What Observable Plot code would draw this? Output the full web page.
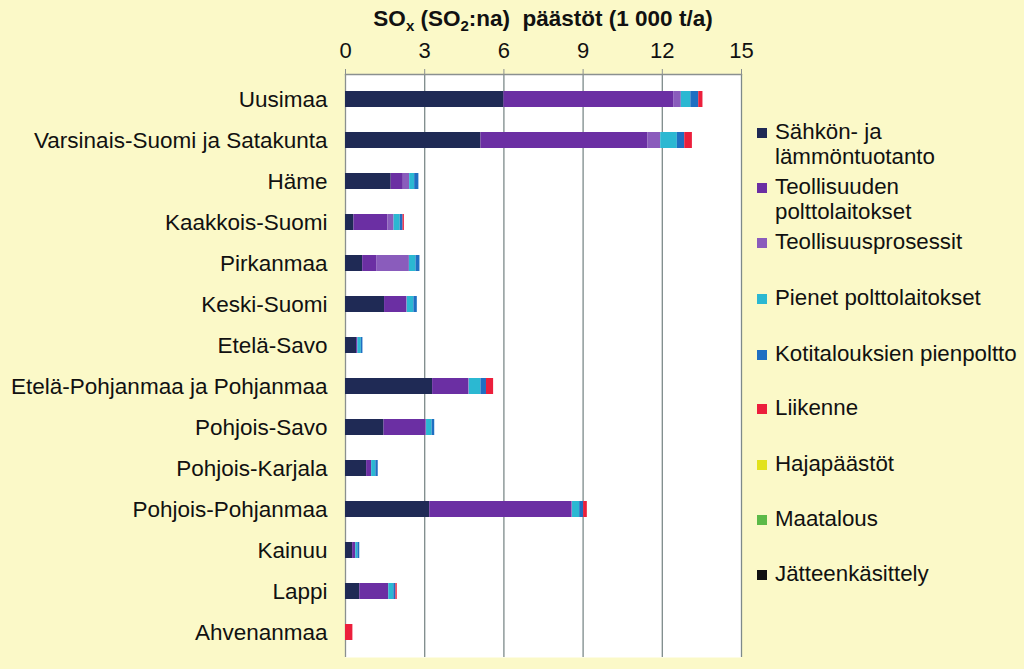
<!DOCTYPE html>
<html>
<head>
<meta charset="utf-8">
<script src="https://cdn.jsdelivr.net/npm/d3@7"></script>
<script src="https://cdn.jsdelivr.net/npm/@observablehq/plot@0.6"></script>
<style>
  html, body { margin: 0; padding: 0; background: #fbf9c8; }
  #wrap { position: relative; width: 1024px; height: 669px; background: #fbf9c8; font-family: "Liberation Sans", Arial, sans-serif; color: #111; overflow: hidden; }
  #title { position: absolute; left: 0; width: 1086px; top: 6px; text-align: center; font-weight: bold; font-size: 22.5px; }
  #title sub { font-size: 15px; vertical-align: -5px; line-height: 0; }
  #legend { position: absolute; left: 757px; top: 0; font-size: 22.3px; }
  .li { position: absolute; white-space: nowrap; line-height: 25px; }
  .sw { position: absolute; left: 0; width: 10px; height: 10px; }
  .lt { position: absolute; left: 18px; }
  #chart { position: absolute; left: 0; top: 0; }
</style>
</head>
<body>
<div id="wrap">
  <div id="chart"></div>
  <div id="title">SO<sub>x</sub> (SO<sub>2</sub>:na)&nbsp; päästöt (1 000 t/a)</div>
  <div id="legend"></div>
</div>
<script>
const regions = ["Uusimaa", "Varsinais-Suomi ja Satakunta", "Häme", "Kaakkois-Suomi", "Pirkanmaa", "Keski-Suomi", "Etelä-Savo", "Etelä-Pohjanmaa ja Pohjanmaa", "Pohjois-Savo", "Pohjois-Karjala", "Pohjois-Pohjanmaa", "Kainuu", "Lappi", "Ahvenanmaa"];
const seriesNames = ["Sähkön- ja lämmöntuotanto", "Teollisuuden polttolaitokset", "Teollisuusprosessit", "Pienet polttolaitokset", "Kotitalouksien pienpoltto", "Liikenne", "Hajapäästöt", "Maatalous", "Jätteenkäsittely"];
const seriesColors = ["#1f2a55", "#6b2fa3", "#8a5cbc", "#2bb8d2", "#1f6fc2", "#ec1f3c", "#e2e21c", "#5cba48", "#111111"];

const sahko      = [6.00, 5.13, 1.73, 0.32, 0.65, 1.48, 0.42, 3.30, 1.46, 0.80, 3.19, 0.27, 0.54, 0.00];
const teollPolt  = [6.43, 6.33, 0.46, 1.29, 0.53, 0.84, 0.05, 1.37, 1.59, 0.19, 5.39, 0.12, 1.10, 0.00];
const teollPros  = [0.29, 0.48, 0.24, 0.23, 1.24, 0.02, 0.00, 0.02, 0.02, 0.00, 0.02, 0.00, 0.00, 0.00];
const pienet     = [0.36, 0.63, 0.19, 0.23, 0.25, 0.25, 0.13, 0.44, 0.21, 0.16, 0.27, 0.08, 0.19, 0.00];
const kotitalous = [0.30, 0.28, 0.16, 0.11, 0.15, 0.13, 0.06, 0.21, 0.10, 0.09, 0.15, 0.07, 0.08, 0.00];
const liikenne   = [0.16, 0.29, 0.00, 0.05, 0.00, 0.00, 0.00, 0.27, 0.00, 0.00, 0.14, 0.00, 0.05, 0.28];
const hajapaastot = [0, 0, 0, 0, 0, 0, 0, 0, 0, 0, 0, 0, 0, 0];
const maatalous   = [0, 0, 0, 0, 0, 0, 0, 0, 0, 0, 0, 0, 0, 0];
const jatteet     = [0, 0, 0, 0, 0, 0, 0, 0, 0, 0, 0, 0, 0, 0];
const seriesValues = [sahko, teollPolt, teollPros, pienet, kotitalous, liikenne, hajapaastot, maatalous, jatteet];
const xTicks = [0, 3, 6, 9, 12, 15];

const rows = [];
seriesNames.forEach((s, si) => {
  regions.forEach((r, ri) => {
    rows.push({region: r, series: s, value: seriesValues[si][ri]});
  });
});

const plot = Plot.plot({
  width: 1024,
  height: 669,
  marginTop: 74,
  marginBottom: 12,
  marginLeft: 345,
  marginRight: 283,
  style: {background: "transparent", fontFamily: "'Liberation Sans', Arial, sans-serif", color: "#111"},
  x: {domain: [0, 15], ticks: xTicks, label: null},
  y: {domain: regions, paddingInner: 0.6, paddingOuter: 0.3, label: null},
  color: {domain: seriesNames, range: seriesColors},
  marks: [
    Plot.frame({fill: "white", stroke: null}),
    Plot.ruleX(xTicks.slice(1), {stroke: "#7d8a8a", strokeWidth: 1.3}),
    Plot.ruleX([0], {stroke: "#8a9090", strokeWidth: 1.3}),
    Plot.frame({anchor: "top", stroke: "#8a9090", strokeWidth: 1.3}),
    Plot.barX(rows, {y: "region", x: "value", fill: "series", order: seriesNames}),
    Plot.axisX({anchor: "top", ticks: xTicks, tickSize: 6, tickPadding: 11, fontSize: 22, stroke: "#8a9090", label: null}),
    Plot.axisY({tickSize: 0, tickPadding: 18, fontSize: 22.5, label: null})
  ]
});
document.getElementById("chart").appendChild(plot);

// legend
const legendRows = [
  {lines: ["Sähkön- ja", "lämmöntuotanto"], y: 119},
  {lines: ["Teollisuuden", "polttolaitokset"], y: 174},
  {lines: ["Teollisuusprosessit"], y: 229},
  {lines: ["Pienet polttolaitokset"], y: 285},
  {lines: ["Kotitalouksien pienpoltto"], y: 341},
  {lines: ["Liikenne"], y: 395},
  {lines: ["Hajapäästöt"], y: 451},
  {lines: ["Maatalous"], y: 506},
  {lines: ["Jätteenkäsittely"], y: 561}
];
const leg = document.getElementById("legend");
legendRows.forEach((d, i) => {
  const item = document.createElement("div");
  item.className = "li";
  item.style.top = d.y + "px";
  const sw = document.createElement("div");
  sw.className = "sw";
  sw.style.background = seriesColors[i];
  sw.style.top = "9px";
  const t = document.createElement("div");
  t.className = "lt";
  t.innerHTML = d.lines.join("<br>");
  item.appendChild(sw);
  item.appendChild(t);
  leg.appendChild(item);
});
</script>
</body>
</html>
